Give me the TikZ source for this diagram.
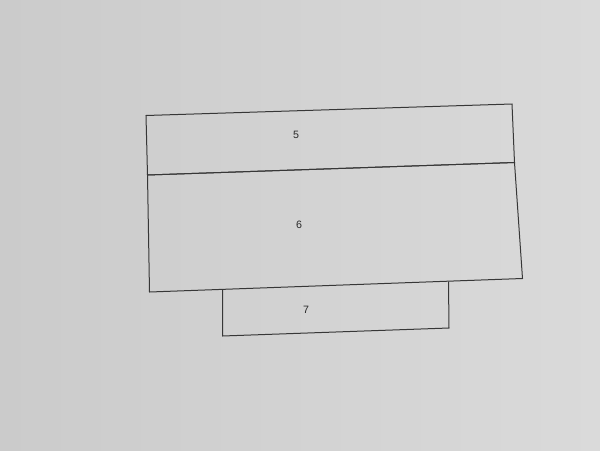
\documentclass[tikz,border=0pt]{standalone}
\usepackage{fontspec}
\setmainfont{Liberation Sans}

\tikzset{every picture/.style={line width=0.75pt}}

\begin{document}
\begin{tikzpicture}[x=0.75pt,y=0.75pt,yscale=-1,xscale=1]
%set diagram left start at 0, and has height of 450
\useasboundingbox (0,0) rectangle (600,450);

\shade  [left color={rgb, 255:red, 203; green, 203; blue, 203 }  ,right color={rgb, 255:red, 218; green, 218; blue, 218 } ]  (0,0) rectangle (600,450) ;

%top box
\draw  [color={rgb, 255:red, 55; green, 55; blue, 55 }  ,draw opacity=1 ]  (146,115.5) -- (512,104) -- (514.5,162.5) -- (147.5,175) -- cycle ;
%middle box
\draw  [color={rgb, 255:red, 55; green, 55; blue, 55 }  ,draw opacity=1 ]  (147.5,175) -- (514.5,162.5) -- (522.5,278.5) -- (149.5,292) -- cycle ;
%bottom box
\draw  [color={rgb, 255:red, 55; green, 55; blue, 55 }  ,draw opacity=1 ]  (222.5,289.5) -- (222.5,336) -- (449,328) -- (448.5,281.5) ;

\draw (296,135) node (lbl5) [color={rgb, 255:red, 40; green, 40; blue, 40 }  ,opacity=1 ] [font=\footnotesize] {5};
\draw (299,225) node (lbl6) [color={rgb, 255:red, 40; green, 40; blue, 40 }  ,opacity=1 ] [font=\footnotesize] {6};
\draw (306,310) node (lbl7) [color={rgb, 255:red, 40; green, 40; blue, 40 }  ,opacity=1 ] [font=\footnotesize] {7};

\end{tikzpicture}
\end{document}
